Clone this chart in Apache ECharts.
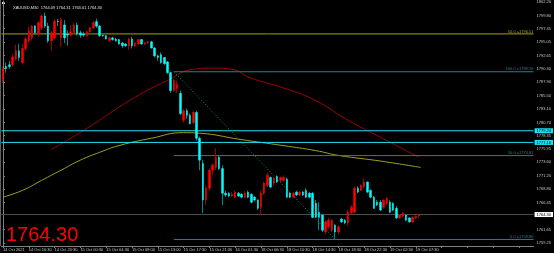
<!DOCTYPE html>
<html><head><meta charset="utf-8">
<script src="https://cdn.jsdelivr.net/npm/echarts@6/dist/echarts.min.js"></script>
<style>html,body{margin:0;padding:0;background:#000;}#c{width:554px;height:253px;}</style>
</head><body><div id="c"></div>
<script>
const symbolInfo = 'XAUUSD,M30  1764.09 1764.31 1763.61 1764.30';
const lastPrice = 1764.30;

const openP = [1788.2,1790.7,1791.0,1791.0,1792.1,1793.5,1791.4,1793.9,1795.3,1795.8,
1797.9,1796.5,1797.6,1799.7,1797.9,1795.3,1795.8,1798.8,1795.8,1798.1,
1796.5,1796.3,1796.7,1798.1,1796.7,1796.5,1796.2,1796.9,1797.6,1798.7,
1797.9,1796.3,1796.2,1795.3,1795.8,1795.6,1795.5,1794.9,1794.7,1794.4,
1795.6,1794.4,1794.7,1795.5,1794.7,1794.9,1795.1,1794.0,1792.6,1792.8,
1792.3,1791.5,1789.6,1786.4,1786.8,1785.9,1781.1,1782.8,1782.0,1780.7,
1782.5,1777.9,1773.4,1766.9,1769.0,1772.2,1772.7,1774.5,1772.5,1768.1,
1768.1,1767.6,1767.4,1768.1,1767.9,1767.4,1768.3,1767.9,1767.4,1766.9,
1765.6,1768.1,1769.5,1770.9,1769.9,1771.1,1770.4,1770.4,1770.6,1768.1,
1767.4,1768.3,1767.8,1768.3,1768.6,1768.1,1768.1,1766.3,1764.7,1764.2,
1761.2,1762.1,1761.5,1762.4,1761.2,1763.5,1763.3,1762.8,1764.6,1764.7,
1769.0,1768.6,1769.2,1770.1,1768.6,1767.4,1766.5,1766.5,1765.6,1766.3,
1766.5,1766.3,1765.4,1763.7,1764.0,1764.2,1763.7,1763.0,1763.7,1764.09];
const closeP = [1790.3,1790.3,1790.7,1792.4,1793.5,1792.3,1793.9,1795.6,1797.1,1797.9,
1796.7,1798.5,1799.7,1797.9,1795.3,1796.7,1798.8,1798.7,1799.0,1795.8,
1796.3,1796.9,1798.1,1796.5,1796.3,1796.3,1796.9,1797.6,1798.5,1797.9,
1796.2,1796.2,1795.6,1795.8,1795.5,1795.3,1794.7,1794.4,1794.4,1795.6,
1794.4,1794.9,1795.5,1794.7,1794.9,1795.1,1794.0,1792.6,1792.3,1791.4,
1791.2,1789.6,1786.4,1788.2,1787.5,1782.3,1782.8,1782.0,1780.5,1782.5,
1777.9,1774.0,1766.9,1769.0,1772.2,1773.1,1774.5,1772.5,1768.1,1767.8,
1767.6,1767.9,1768.3,1767.6,1767.4,1768.1,1767.4,1766.5,1766.9,1765.4,
1768.1,1769.9,1771.3,1769.2,1770.8,1770.1,1770.9,1770.9,1767.4,1767.4,
1768.1,1767.8,1768.3,1767.8,1767.4,1767.4,1763.8,1763.8,1763.8,1761.5,
1763.0,1763.3,1763.3,1761.2,1762.1,1763.0,1762.8,1764.7,1765.6,1769.0,
1768.3,1769.5,1770.1,1768.3,1767.4,1765.4,1766.0,1765.1,1766.9,1767.2,
1764.7,1765.1,1763.7,1764.2,1764.6,1763.3,1763.0,1763.8,1764.0,1764.30];
const lowP = [1787.8,1789.6,1790.3,1790.7,1791.7,1791.7,1791.0,1793.5,1794.9,1795.3,
1796.3,1796.0,1797.2,1797.6,1794.9,1793.5,1795.5,1797.9,1794.2,1794.9,
1794.4,1796.0,1796.3,1796.2,1795.8,1796.0,1796.0,1796.5,1797.4,1797.6,
1796.0,1796.0,1795.5,1795.1,1795.3,1795.1,1794.6,1794.0,1794.2,1793.7,
1793.9,1794.2,1794.6,1794.6,1794.6,1794.7,1793.9,1792.3,1791.7,1791.2,
1791.0,1789.4,1786.0,1786.2,1786.0,1782.0,1780.7,1781.4,1780.4,1780.4,
1777.5,1772.2,1764.6,1766.0,1768.6,1771.3,1772.2,1772.2,1766.0,1767.4,
1767.4,1767.4,1767.2,1767.4,1767.2,1767.2,1767.2,1766.3,1766.7,1765.1,
1764.2,1767.8,1769.2,1769.0,1769.5,1769.9,1770.1,1770.2,1767.2,1767.2,
1767.2,1767.6,1767.6,1767.6,1767.2,1767.2,1763.7,1763.7,1761.5,1761.2,
1760.8,1761.7,1761.2,1759.86,1760.8,1762.8,1762.6,1762.4,1764.4,1764.6,
1768.1,1768.5,1769.0,1768.1,1767.2,1765.3,1765.8,1764.9,1765.4,1766.0,
1764.6,1764.9,1763.5,1763.5,1763.8,1763.1,1762.8,1762.8,1763.5,1763.61];
const highP = [1790.7,1791.4,1791.7,1792.8,1794.6,1794.7,1794.7,1796.0,1797.8,1798.1,
1798.1,1798.8,1800.1,1800.3,1798.5,1797.1,1799.2,1799.2,1799.4,1799.0,
1797.1,1798.1,1798.5,1798.5,1797.1,1796.9,1797.1,1797.8,1798.8,1799.2,
1798.1,1796.5,1796.3,1796.0,1796.0,1795.8,1795.6,1795.1,1794.9,1795.8,
1796.0,1795.1,1795.6,1795.6,1795.1,1795.3,1795.3,1794.2,1792.8,1793.2,
1792.4,1791.7,1789.76,1788.5,1788.2,1786.4,1783.2,1783.2,1782.3,1782.8,
1782.8,1778.2,1774.0,1769.5,1772.5,1773.4,1776.1,1774.9,1773.1,1768.5,
1768.3,1768.3,1768.6,1768.3,1768.1,1768.5,1768.6,1768.1,1767.6,1767.0,
1768.6,1770.1,1771.7,1771.1,1770.9,1771.3,1771.1,1771.3,1770.9,1768.3,
1768.3,1768.6,1768.5,1768.5,1769.0,1768.3,1768.3,1766.9,1766.5,1764.4,
1763.3,1763.7,1763.5,1762.6,1762.4,1763.7,1763.5,1765.1,1766.0,1769.4,
1769.4,1769.7,1770.8,1770.2,1768.8,1767.6,1766.9,1766.9,1767.0,1767.4,
1766.9,1766.5,1765.8,1764.4,1764.7,1764.4,1763.8,1764.0,1764.2,1764.31];

const xTickLabels = ['14 Oct 2021','14 Oct 16:30','14 Oct 20:30','15 Oct 00:30','15 Oct 04:30','15 Oct 09:00',
'15 Oct 13:00','15 Oct 17:30','15 Oct 21:30','16 Oct 01:30','18 Oct 06:30','18 Oct 10:30','18 Oct 14:30',
'18 Oct 18:30','18 Oct 22:30','19 Oct 02:30','19 Oct 07:30'];
const tickEvery = 8;
const slotCount = 165;

const yTickValues = [1802.20,1799.80,1797.45,1795.05,1792.65,1790.30,1787.90,1785.50,1783.10,1780.70,
1778.35,1775.95,1773.60,1771.20,1768.80,1766.45,1761.65,1759.25];
const yMin = 1758.69, yMax = 1802.38;

const maRed = [[15,1775.9],[25,1779.3],[40.6,1785.1],[51,1788.2],[59,1790.2],[65,1790.4],[71,1790.2],
[76.6,1788.7],[86.8,1786.9],[97,1784.6],[107,1781.1],[118,1777.8],[129,1774.5]];
const maOlive = [[0,1767.4],[6,1768.6],[12,1770.4],[18,1772.2],[24,1774.0],[30,1775.4],[36,1776.6],
[46,1777.9],[56,1778.9],[61,1778.8],[73.5,1777.7],[86.8,1776.6],[97,1775.7],[104,1774.85],[117.5,1773.8],[129.5,1772.7]];

const fibStartBar = 53;
const fibValues = [1789.76, 1774.81, 1759.86];
const fibNames = ['100.0', '50.0', '0.0'];
const fibTrend = [[53, 1789.76], [103, 1759.86]];
const oliveLevel = 1796.51;
const cyanLevels = [1779.24, 1777.16];

const chart = echarts.init(document.getElementById('c'), null, {renderer: 'canvas'});
const N = slotCount;
const cats = Array.from({length: N}, (_, i) => (i % tickEvery === 0 && xTickLabels[i / tickEvery]) ? xTickLabels[i / tickEvery] : '');
const wickData = openP.map((o, i) => [o, closeP[i], lowP[i], highP[i]]);
const bodyData = openP.map((o, i) => [o, closeP[i], Math.min(o, closeP[i]), Math.max(o, closeP[i])]);
const FF = 'Liberation Sans, Arial, sans-serif';

function levelSeries(v, start, color, text, tagBg, tagColor) {
  return {
    type: 'line', xAxisIndex: 1, yAxisIndex: 0, silent: true, animation: false,
    symbol: 'circle', symbolSize: 0.01, showSymbol: true, clip: false,
    lineStyle: {color: color, width: 1},
    itemStyle: {color: color},
    data: [[start, v], {value: [N - 0.5, v], label: {show: !!text, position: 'top', align: 'right', distance: 0.5,
      formatter: text || '', color: color, fontSize: 4, fontFamily: FF}}],
    endLabel: {show: !!tagBg, formatter: v.toFixed(2), backgroundColor: tagBg || 'transparent', color: tagColor || '#000', fontSize: 4,
      fontFamily: FF, padding: [1, 2, 0, 2], distance: 1},
    z: 3
  };
}

const series = [
  {type: 'candlestick', xAxisIndex: 0, data: wickData, barWidth: 1, animation: false, z: 4,
   itemStyle: {color: '#9a0000', color0: '#008a8a', borderColor: '#9a0000', borderColor0: '#008a8a', borderWidth: 1}},
  {type: 'candlestick', xAxisIndex: 0, data: bodyData, barWidth: 2, animation: false, z: 5,
   itemStyle: {color: '#ff0000', color0: '#00ffff', borderColor: '#ff0000', borderColor0: '#00ffff', borderWidth: 0.5}},
  {type: 'line', xAxisIndex: 1, data: maRed, smooth: true, showSymbol: false, symbol: 'none', animation: false,
   lineStyle: {color: '#a00000', width: 1}, z: 3},
  {type: 'line', xAxisIndex: 1, data: maOlive, smooth: true, showSymbol: false, symbol: 'none', animation: false,
   lineStyle: {color: '#a0a020', width: 1}, z: 3},
  {type: 'line', xAxisIndex: 1, data: fibTrend, showSymbol: false, symbol: 'none', animation: false,
   lineStyle: {color: '#00a050', width: 1, type: [1, 2]}, z: 3},
  levelSeries(oliveLevel, -0.5, '#a0a020', '50.0 =' + oliveLevel.toFixed(2)),
  levelSeries(cyanLevels[0], -0.5, '#20e0f0', '', '#20e0f0', '#000'),
  levelSeries(cyanLevels[1], -0.5, '#20e0f0', '', '#20e0f0', '#000'),
  levelSeries(lastPrice, -0.5, '#505050', '', '#ffffff', '#000')
];
fibValues.forEach((v, k) => {
  series.push(levelSeries(v, fibStartBar, '#108c8c', fibNames[k] + ' =' + v.toFixed(2)));
});

chart.setOption({
  backgroundColor: '#000',
  animation: false,
  title: [
    {text: symbolInfo, left: 8, top: 1, textStyle: {color: '#e0e0e0', fontSize: 4, fontWeight: 'normal', fontFamily: FF}},
    {text: lastPrice.toFixed(2), left: 1, top: 220, textStyle: {color: '#ff0000', fontSize: 20, fontWeight: 'normal', fontFamily: FF}}
  ],
  graphic: [
    {type: 'rect', left: 2, top: 2, shape: {width: 3, height: 2}, style: {fill: '#e0e0e0'}},
    {type: 'rect', left: 0, top: 0, shape: {width: 1, height: 246}, style: {fill: '#606060'}}
  ],
  grid: {left: -0.625, right: 19, top: 0, bottom: 7, containLabel: false},
  xAxis: [
    {type: 'category', data: cats, boundaryGap: true,
     axisLine: {lineStyle: {color: '#808080', width: 1}},
     axisTick: {show: true, alignWithLabel: true, length: 2, interval: (i) => i % tickEvery === 0, lineStyle: {color: '#808080'}},
     axisLabel: {interval: 0, fontSize: 4, color: '#c8c8c8', align: 'left', margin: 2, fontFamily: FF},
     splitLine: {show: false}},
    {type: 'value', min: -0.5, max: N - 0.5, show: false}
  ],
  yAxis: [{type: 'value', position: 'right', min: yMin, max: yMax, scale: true,
    axisLine: {show: true, lineStyle: {color: '#808080'}},
    axisTick: {show: true, length: 2, lineStyle: {color: '#808080'}, customValues: yTickValues},
    axisLabel: {fontSize: 4, color: '#c8c8c8', margin: 3, fontFamily: FF, customValues: yTickValues,
      formatter: (v) => v.toFixed(2)},
    splitLine: {show: false}}],
  series: series
});
</script></body></html>
